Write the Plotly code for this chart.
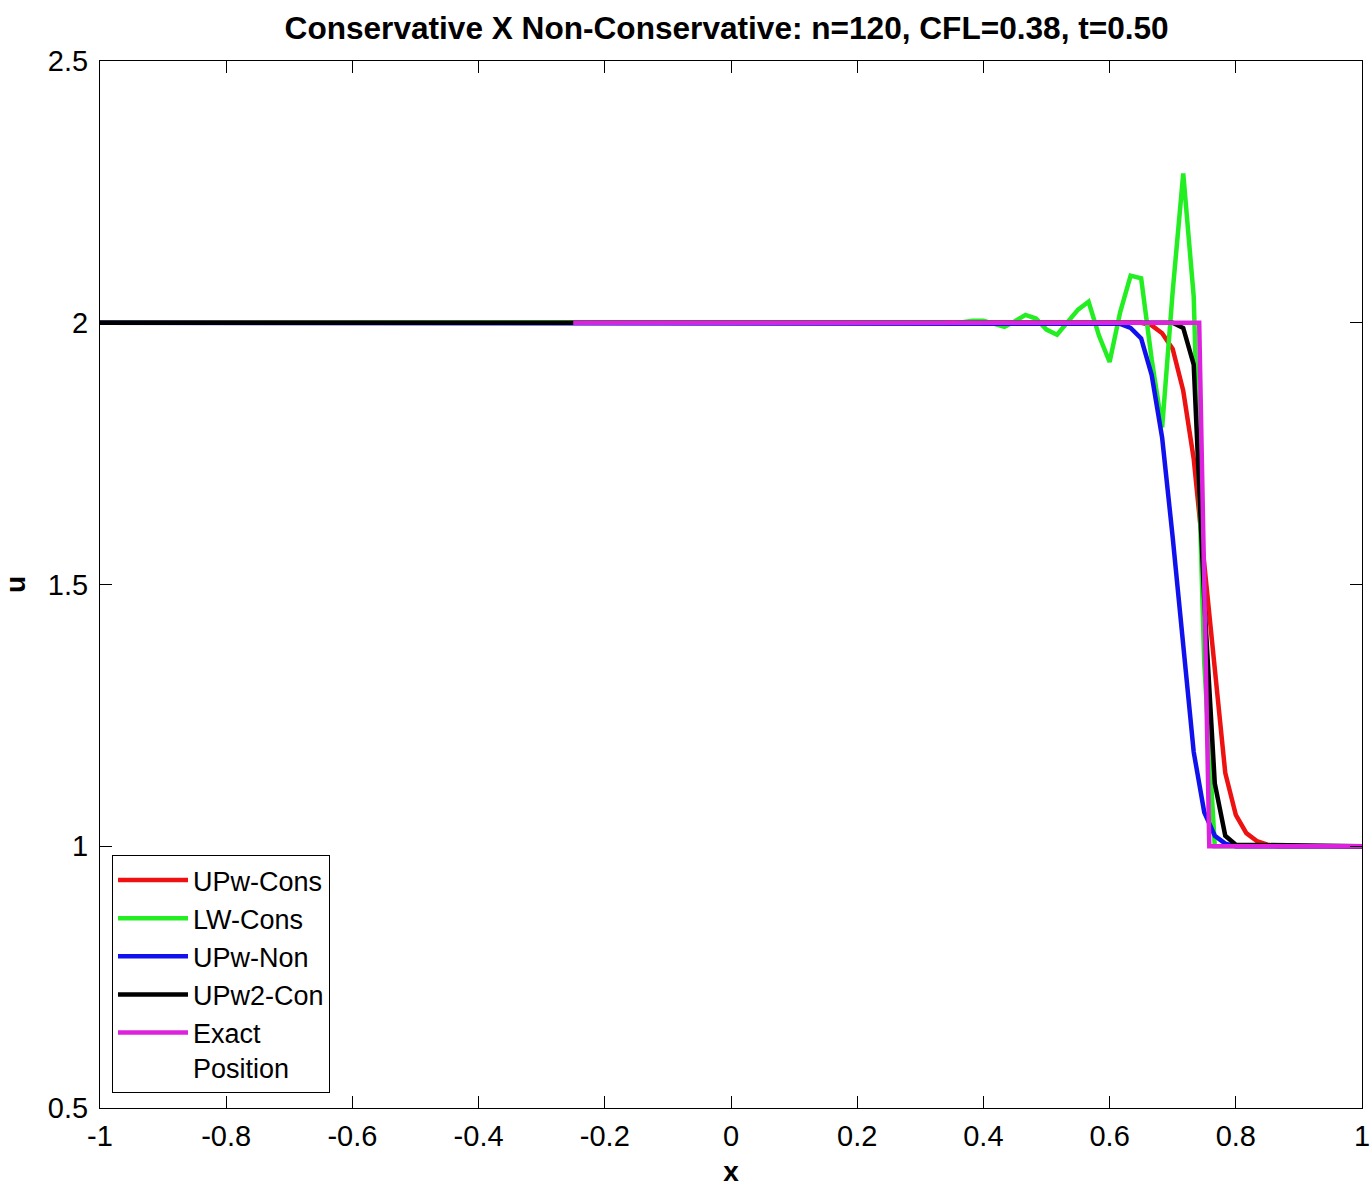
import plotly.graph_objects as go

# ---------------- data ----------------
red_x = [-1.0, 0.65, 0.6667, 0.6833, 0.70, 0.7167, 0.7333, 0.75, 0.7667, 0.7833,
         0.80, 0.8167, 0.8333, 0.85, 0.8667, 1.0]
red_y = [2.0, 2.0, 1.995, 1.98, 1.95, 1.87, 1.74, 1.54, 1.33, 1.14,
         1.06, 1.025, 1.01, 1.003, 1.0, 1.0]

green_x = [-1.0, 0.30, 0.3167, 0.3333, 0.35, 0.3667, 0.3833, 0.40, 0.4167, 0.4333,
           0.45, 0.4667, 0.4833, 0.50, 0.5167, 0.5333, 0.55, 0.5667, 0.5833, 0.60,
           0.6167, 0.6333, 0.65, 0.6667, 0.6833, 0.70, 0.7167, 0.7333, 0.75, 0.7667, 1.0]
green_y = [2.0, 2.0, 1.999, 2.001, 1.998, 2.001, 2.004, 2.004, 1.998, 1.992,
           2.003, 2.015, 2.008, 1.987, 1.977, 2.0, 2.025, 2.04, 1.975, 1.925,
           2.02, 2.09, 2.085, 1.93, 1.80, 2.06, 2.285, 2.05, 1.35, 1.0, 1.0]

blue_x = [-1.0, 0.60, 0.6167, 0.6333, 0.65, 0.6667, 0.6833, 0.70, 0.7167, 0.7333,
          0.75, 0.7667, 0.7833, 0.80, 1.0]
blue_y = [2.0, 2.0, 1.998, 1.99, 1.97, 1.90, 1.78, 1.59, 1.38, 1.18,
          1.065, 1.02, 1.005, 1.0, 1.0]

black_x = [-1.0, 0.70, 0.7167, 0.7333, 0.75, 0.7667, 0.7833, 0.80, 1.0]
black_y = [2.0, 2.0, 1.99, 1.92, 1.47, 1.12, 1.02, 1.003, 1.0]

exact_x = [-0.25, 0.742, 0.758, 1.0]
exact_y = [2.0, 2.0, 1.0, 1.0]

series = [
    ("UPw-Cons", red_x, red_y, "#ee1111"),
    ("LW-Cons", green_x, green_y, "#22ee22"),
    ("UPw-Non", blue_x, blue_y, "#1111ee"),
    ("UPw2-Con", black_x, black_y, "#000000"),
    ("Exact<br>Position", exact_x, exact_y, "#dd22dd"),
]

x_ticks = [-1, -0.8, -0.6, -0.4, -0.2, 0, 0.2, 0.4, 0.6, 0.8, 1]
x_tick_text = ["-1", "-0.8", "-0.6", "-0.4", "-0.2", "0", "0.2", "0.4", "0.6", "0.8", "1"]
y_ticks = [0.5, 1, 1.5, 2, 2.5]
y_tick_text = ["0.5", "1", "1.5", "2", "2.5"]

FONT = "Liberation Sans, Arial, Helvetica, sans-serif"

fig = go.Figure()
for name, xs, ys, col in series:
    fig.add_trace(go.Scatter(x=xs, y=ys, mode="lines", name=name,
                             line=dict(color=col, width=4.5)))

axis_common = dict(
    showline=True, linecolor="black", linewidth=1, mirror="ticks",
    ticks="inside", ticklen=12, tickwidth=1, tickcolor="black",
    showgrid=False, zeroline=False, ticklabeloverflow="allow",
    automargin=False,
    tickfont=dict(family=FONT, size=29, color="black"),
)

fig.update_layout(
    width=1371, height=1187,
    margin=dict(l=100, r=9, t=61, b=79),
    paper_bgcolor="white", plot_bgcolor="white",
    font=dict(family=FONT, color="black"),
    title=dict(text="<b>Conservative X Non-Conservative: n=120, CFL=0.38, t=0.50</b>",
               x=0.53, xanchor="center", y=1 - 28 / 1187, yanchor="middle",
               yref="container", font=dict(family=FONT, size=31.6, color="black")),
    xaxis=dict(range=[-1, 1], tickvals=x_ticks, ticktext=x_tick_text,
               ticklabelstandoff=2,
               title=dict(text="<b>x</b>", font=dict(family=FONT, size=28), standoff=12),
               **axis_common),
    yaxis=dict(range=[0.5, 2.5], tickvals=y_ticks, ticktext=y_tick_text,
               ticklabelstandoff=5,
               title=dict(text="<b>u</b>", font=dict(family=FONT, size=28), standoff=20),
               **axis_common),
    legend=dict(x=0.0095, y=0.0143, xanchor="left", yanchor="bottom",
                bordercolor="black", borderwidth=1, bgcolor="white",
                font=dict(family=FONT, size=27, color="black"),
                valign="top", tracegroupgap=0, itemwidth=70),
    showlegend=True,
)

fig.write_html(
    "out.html",
    config={"displayModeBar": False},
    post_script="document.body.style.margin='0';document.body.style.overflow='hidden';",
)
